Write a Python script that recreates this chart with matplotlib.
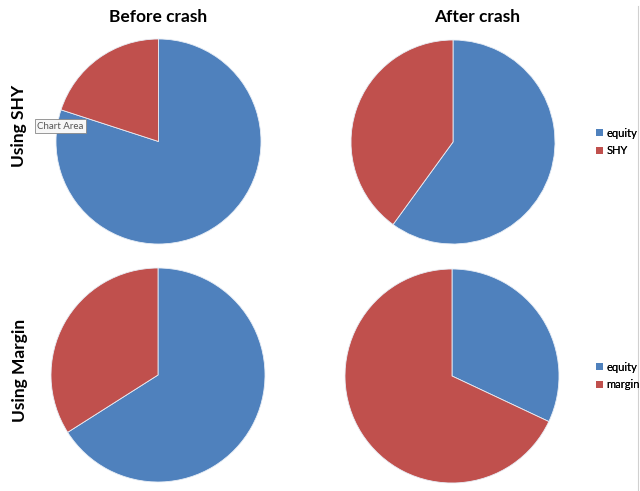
import matplotlib.pyplot as plt
from matplotlib.patches import Patch

# slice shares (equity first, then the other asset)
shy_labels = ['equity', 'SHY']
margin_labels = ['equity', 'margin']
before_shy = [80, 20]
after_shy = [60, 40]
before_margin = [66, 34]
after_margin = [32, 68]

col_titles = ['Before crash', 'After crash']
row_titles = ['Using SHY', 'Using Margin']
colors = ['#4F81BD', '#C0504D']

W, H = 640, 491
fig = plt.figure(figsize=(W / 100, H / 100), dpi=100)
fig.patch.set_facecolor('white')


def pie_at(cx, cy, r, values):
    # axes placed in pixel coords (y from the top)
    ax = fig.add_axes([(cx - r) / W, 1 - (cy + r) / H, 2 * r / W, 2 * r / H])
    ax.pie(values, colors=colors, startangle=90, counterclock=False, radius=1,
           wedgeprops=dict(edgecolor='#e8eef6', linewidth=0.6))
    ax.set_xlim(-1, 1)
    ax.set_ylim(-1, 1)
    ax.set_aspect('equal')
    ax.axis('off')
    return ax


pie_at(158.5, 141.5, 102.5, before_shy)
pie_at(453, 142, 102, after_shy)
pie_at(158, 375, 107, before_margin)
pie_at(452, 376, 107, after_margin)

tfont = dict(family=['Lato', 'DejaVu Sans'], fontweight='bold', fontsize=12.5)
fig.text(158 / W, 1 - 17 / H, col_titles[0], ha='center', va='center', **tfont)
fig.text(477 / W, 1 - 17 / H, col_titles[1], ha='center', va='center', **tfont)
fig.text(19 / W, 1 - 126 / H, row_titles[0], ha='center', va='center', rotation=90, **tfont)
fig.text(20 / W, 1 - 370 / H, row_titles[1], ha='center', va='center', rotation=90, **tfont)

# legends
for labels, ytop in [(shy_labels, 133), (margin_labels, 367)]:
    handles = [Patch(facecolor=c, edgecolor='none') for c in colors]
    leg = fig.legend(handles, labels, loc='center left',
                     bbox_to_anchor=(586 / W, 1 - (ytop + 9) / H),
                     frameon=False, handlelength=0.6, handleheight=0.6,
                     handletextpad=0.35, labelspacing=0.6,
                     prop=dict(family=['Lato', 'DejaVu Sans'], size=8))
    fig.add_artist(leg)

# chart area border on the right side
fig.add_artist(plt.Line2D([637.5 / W, 637.5 / W], [0, 1 - 6 / H], color='#d0d0d0', lw=0.8))

# "Chart Area" tooltip from the screenshot
fig.text(37 / W, 1 - 126 / H, 'Chart Area', ha='left', va='center', fontsize=7,
         color='#555555', family=['Lato', 'DejaVu Sans'],
         bbox=dict(boxstyle='square,pad=0.25', facecolor='#f7f7f7', edgecolor='#888888', lw=0.6))

fig.savefig('out.png', dpi=100)
